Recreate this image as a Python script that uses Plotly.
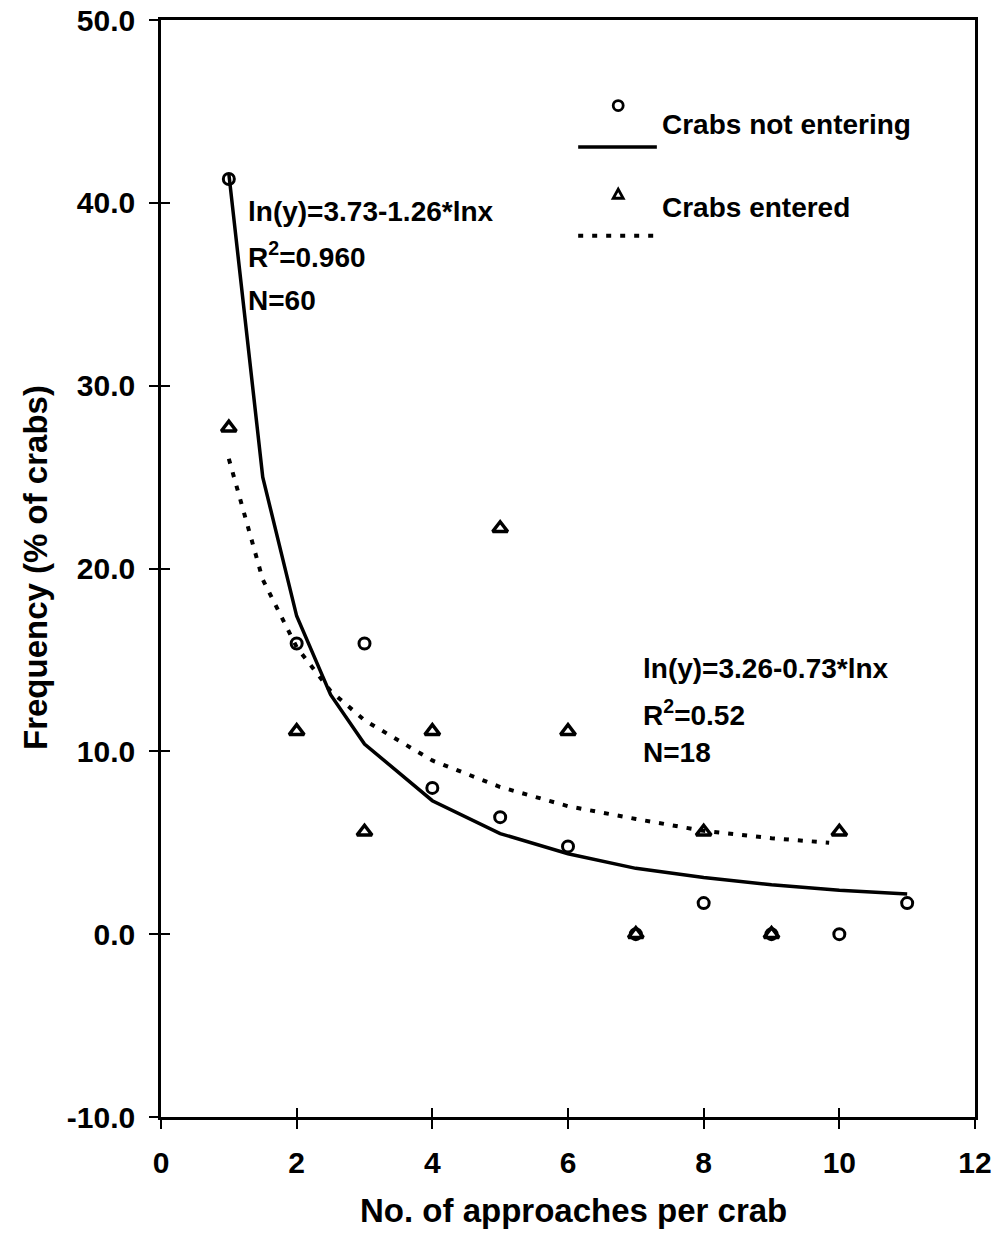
import plotly.graph_objects as go

# ---- data ----
approaches = [1, 2, 3, 4, 5, 6, 7, 8, 9, 10, 11]
not_entering = [41.3, 15.9, 15.9, 8.0, 6.4, 4.8, 0.0, 1.7, 0.0, 0.0, 1.7]

approaches_entered = [1, 2, 3, 4, 5, 6, 7, 8, 9, 10]
entered = [27.7, 11.1, 5.6, 11.1, 22.2, 11.1, 0.0, 5.6, 0.0, 5.6]

# fitted curve (solid)
fit1_x = [1, 1.5, 2, 2.5, 3, 4, 5, 6, 7, 8, 9, 10, 11]
fit1_y = [41.6, 25.0, 17.4, 13.1, 10.4, 7.3, 5.5, 4.4, 3.6, 3.1, 2.7, 2.4, 2.2]

# fitted curve (dotted)
fit2_x = [1, 1.5, 2, 2.5, 3, 4, 5, 6, 7, 8, 9, 9.85]
fit2_y = [26.0, 19.4, 15.7, 13.3, 11.7, 9.5, 8.05, 7.0, 6.3, 5.65, 5.25, 5.0]

x_ticks = [0, 2, 4, 6, 8, 10, 12]
y_ticks = [-10, 0, 10, 20, 30, 40, 50]

FONT = "Liberation Sans"
BLACK = "#000000"
DOTS = "5px,9px"

fig = go.Figure()

fig.add_trace(go.Scatter(x=fit1_x, y=fit1_y, mode="lines",
                         line=dict(color=BLACK, width=3.5), showlegend=False))
fig.add_trace(go.Scatter(x=fit2_x, y=fit2_y, mode="lines",
                         line=dict(color=BLACK, width=4, dash=DOTS), showlegend=False))
fig.add_trace(go.Scatter(x=approaches, y=not_entering, mode="markers",
                         marker=dict(symbol="circle-open", size=11, color=BLACK,
                                     line=dict(width=3, color=BLACK)),
                         showlegend=False))
fig.add_trace(go.Scatter(x=approaches_entered, y=entered, mode="markers",
                         marker=dict(symbol="triangle-up-open", size=13, color=BLACK,
                                     line=dict(width=3.5, color=BLACK)),
                         showlegend=False))

tick_font = dict(family=FONT, size=30, color=BLACK, weight="bold")

fig.update_layout(
    width=999, height=1241,
    margin=dict(l=161, r=24, t=20, b=124),
    paper_bgcolor="white", plot_bgcolor="white",
    xaxis=dict(range=[0, 12], tickvals=x_ticks, ticktext=[str(v) for v in x_ticks],
               showgrid=False, zeroline=False, showline=True, linecolor=BLACK,
               linewidth=2.5, mirror=True, ticks="outside", ticklen=9, tickwidth=1.5,
               tickcolor=BLACK, tickfont=tick_font, ticklabelstandoff=8,
               automargin=False),
    yaxis=dict(range=[-10, 50], tickvals=y_ticks, ticktext=[f"{v:.1f}" for v in y_ticks],
               showgrid=False, zeroline=False, showline=True, linecolor=BLACK,
               linewidth=2.5, mirror=True, ticks="outside", ticklen=9, tickwidth=1.5,
               tickcolor=BLACK, tickfont=tick_font, ticklabelstandoff=8,
               automargin=False),
    xaxis2=dict(range=[0, 12], overlaying="x", side="bottom", tickvals=x_ticks,
                showticklabels=False, showgrid=False, zeroline=False, showline=False,
                ticks="inside", ticklen=9, tickwidth=1.5, tickcolor=BLACK,
                automargin=False),
    yaxis2=dict(range=[-10, 50], overlaying="y", side="left", tickvals=y_ticks,
                showticklabels=False, showgrid=False, zeroline=False, showline=False,
                ticks="inside", ticklen=9, tickwidth=1.5, tickcolor=BLACK,
                automargin=False),
)
# invisible trace to activate the overlay axes (inner half of the crossing ticks)
fig.add_trace(go.Scatter(x=[None], y=[None], xaxis="x2", yaxis="y2", showlegend=False))

ann_font = dict(family=FONT, size=28, color=BLACK, weight="bold")
title_font = dict(family=FONT, size=33, color=BLACK, weight="bold")


def note(text, x, y):
    return dict(text=text, x=x, y=y, xanchor="left", yanchor="middle",
                showarrow=False, font=ann_font)


annotations = [
    dict(text="No. of approaches per crab", xref="paper", yref="paper",
         x=(573 - 161) / 814, y=-(1210 - 1117) / 1097, xanchor="center", yanchor="middle",
         showarrow=False, font=title_font),
    dict(text="Frequency (% of crabs)", xref="paper", yref="paper",
         x=-(161 - 35) / 814, y=(1117 - 568) / 1097, xanchor="center", yanchor="middle",
         textangle=-90, showarrow=False, font=title_font),
    note("ln(y)=3.73-1.26*lnx", 1.25, 39.55),
    note("R<sup>2</sup>=0.960", 1.25, 37.12),
    note("N=60", 1.25, 34.65),
    note("ln(y)=3.26-0.73*lnx", 7.08, 14.55),
    note("R<sup>2</sup>=0.52", 7.08, 12.07),
    note("N=18", 7.08, 9.93),
    # legend labels
    note("Crabs not entering", 7.36, 44.27),
    note("Crabs entered", 7.36, 39.72),
]
fig.update_layout(annotations=annotations)

# legend keys drawn as shapes
shapes = [
    dict(type="circle", xref="x", yref="y", xsizemode="pixel", ysizemode="pixel",
         xanchor=6.74, yanchor=45.32, x0=-5, x1=5, y0=-5, y1=5,
         line=dict(color=BLACK, width=2.8)),
    dict(type="line", xref="x", yref="y", x0=6.15, x1=7.31, y0=43.05, y1=43.05,
         line=dict(color=BLACK, width=3.5)),
    dict(type="path", xref="x", yref="y", xsizemode="pixel", ysizemode="pixel",
         xanchor=6.74, yanchor=40.47, path="M -5 -4 L 5 -4 L 0 5 Z",
         line=dict(color=BLACK, width=2.8)),
    dict(type="line", xref="x", yref="y", x0=6.15, x1=7.31, y0=38.2, y1=38.2,
         line=dict(color=BLACK, width=4, dash=DOTS)),
]
fig.update_layout(shapes=shapes)

fig.write_html("out.html")
